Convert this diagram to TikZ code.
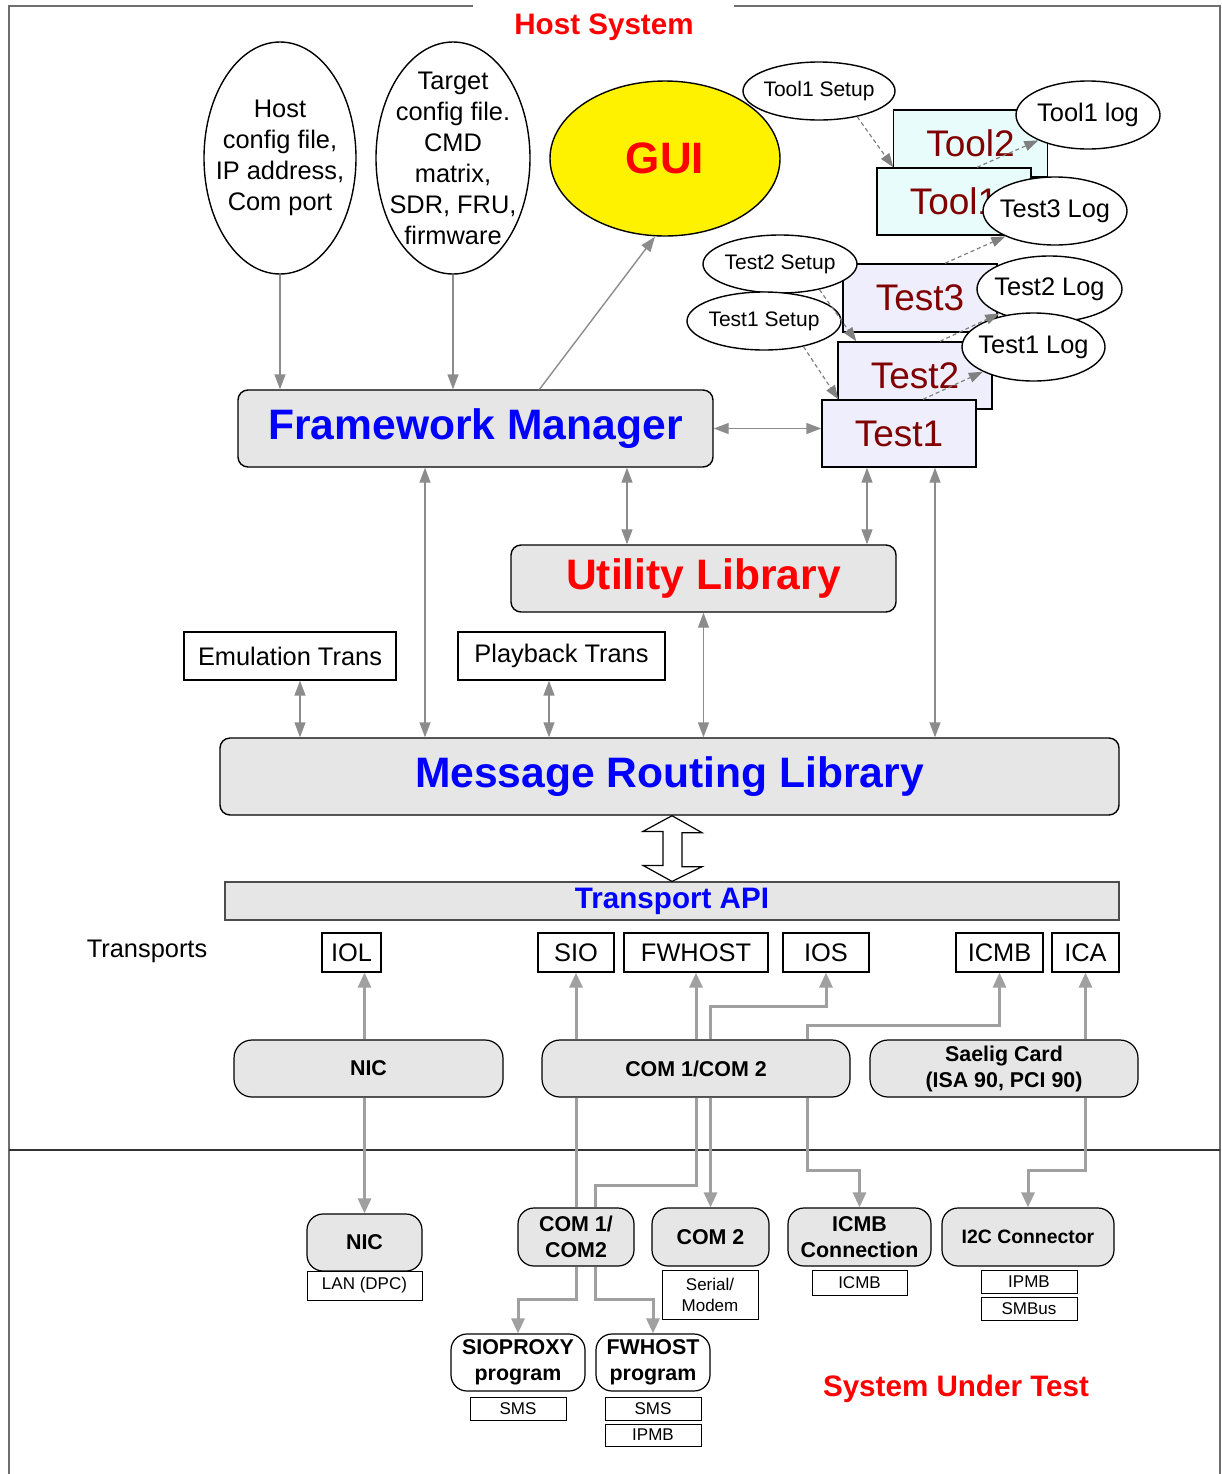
\documentclass[tikz,border=0pt]{standalone}
\usepackage{fontspec}
\setmainfont{Liberation Sans}
\usepackage{tikz}
\usetikzlibrary{shapes,arrows.meta}
\definecolor{boxgray}{HTML}{E6E6E6}
\definecolor{linegray}{HTML}{8C8C8C}
\definecolor{wiregray}{HTML}{A0A0A0}
\definecolor{toolcyan}{HTML}{E8FCFC}
\definecolor{testlav}{HTML}{EEEEFC}
\definecolor{darkred}{HTML}{800000}
\definecolor{framegray}{HTML}{6E6E6E}

\begin{document}
\begin{tikzpicture}[x=0.5pt, y=-0.5pt,
    every node/.style={font=\fontsize{12.7}{15.5}\selectfont},
    bubble/.style={ellipse, draw, fill=white, line width=0.7pt, inner sep=-10pt, align=center},
    bigbox/.style={draw, rounded corners=5pt, fill=boxgray, line width=0.7pt, inner sep=0pt, font=\fontsize{21.3}{25}\selectfont\bfseries},
    transbox/.style={draw, line width=0.6pt, minimum height=19.5pt, inner sep=0pt},
    tbox/.style={draw, line width=0.7pt, minimum width=77pt, minimum height=33.5pt, inner sep=0pt, text=darkred, font=\fontsize{18.5}{22}\selectfont},
    hwbox/.style={draw, rounded corners=9pt, fill=boxgray, line width=0.6pt, minimum height=28.5pt, inner sep=0pt, align=center, font=\fontsize{10.7}{13}\selectfont\bfseries},
    sutbox/.style={hwbox, rounded corners=8pt, minimum height=29pt},
    subbox/.style={draw, line width=0.5pt, minimum width=48pt, minimum height=11.5pt, inner sep=0pt, align=center, font=\fontsize{8.5}{10.5}\selectfont},
    conn/.style={draw=linegray, line width=0.7pt, >={Triangle[length=7.5pt,width=5.5pt]}},
    hw/.style={draw=wiregray, line width=1.5pt, >={Triangle[length=7.5pt,width=6.5pt]}},
    dashy/.style={draw=gray, dashed, dash pattern=on 2pt off 1.5pt, line width=0.6pt, -{Triangle[length=7pt,width=5pt]}},
    title/.style={text=red, font=\fontsize{14.8}{17}\selectfont\bfseries}]

    \useasboundingbox (0,0) rectangle (1222,1474);

    % frame and divider
    \draw[framegray, line width=0.8pt] (9,1474) -- (9,6) -- (473,6);
    \draw[framegray, line width=0.8pt] (734,6) -- (1220,6) -- (1220,1474);
    \draw[black!80, line width=0.6pt] (9,1150) -- (1220,1150);

    \node[title] (hosttitle) at (604,27) {Host System};
    \node[title] (suttitle) at (956,1389) {System Under Test};

    % config files and GUI
    \node[bubble, minimum width=76pt, minimum height=116pt] (hostcfg) at (280,158) {Host\\config file,\\IP address,\\Com port};
    \node[bubble, minimum width=77pt, minimum height=116pt] (tgtcfg) at (453,158) {Target\\config file.\\CMD\\matrix,\\SDR, FRU,\\firmware};
    \node[bubble, fill=yellow, minimum width=115pt, minimum height=77.5pt, text=red, font=\fontsize{22}{26}\selectfont\bfseries] (gui) at (665,158.5) {GUI};

    % tools and tests
    \node[tbox, fill=toolcyan] (tool2) at (970.5,143.5) {Tool2};
    \node[tbox, fill=toolcyan] (tool1) at (954,201.5) {Tool1};
    \node[bubble, minimum width=76pt, minimum height=29pt, font=\fontsize{10.5}{12}\selectfont] (tool1set) at (819,91) {Tool1 Setup};
    \node[bubble, minimum width=72pt, minimum height=34pt] (tool1log) at (1088,115) {Tool1 log};
    \node[bubble, minimum width=72pt, minimum height=34pt] (test3log) at (1055,211) {Test3 Log};
    \node[tbox, fill=testlav, minimum height=34pt] (test3) at (920,298) {Test3};
    \node[bubble, minimum width=77pt, minimum height=29pt, font=\fontsize{10.5}{12}\selectfont] (test2set) at (780,264) {Test2 Setup};
    \node[bubble, minimum width=72.5pt, minimum height=33pt] (test2log) at (1049.5,289) {Test2 Log};
    \node[tbox, fill=testlav] (test2) at (915,375.5) {Test2};
    \node[bubble, minimum width=77pt, minimum height=29pt, font=\fontsize{10.5}{12}\selectfont] (test1set) at (764,321) {Test1 Setup};
    \node[bubble, minimum width=71.5pt, minimum height=34pt] (test1log) at (1033.5,347) {Test1 Log};
    \node[tbox, fill=testlav] (test1) at (899,433.5) {Test1};

    % libraries
    \node[bigbox, text=blue, minimum width=237.5pt, minimum height=38.5pt] (fm) at (475.5,428.5) {Framework Manager};
    \node[bigbox, text=red, minimum width=192.5pt, minimum height=33.5pt] (util) at (703.5,578.5) {Utility Library};
    \node[draw, line width=0.6pt, inner sep=0pt, minimum width=106pt, minimum height=24pt] (emul) at (290,656) {Emulation Trans};
    \node[draw, line width=0.6pt, inner sep=0pt, minimum width=103.5pt, minimum height=24pt] (play) at (561.5,656) {Playback Trans};
    \node[bigbox, text=blue, minimum width=449.5pt, minimum height=38.5pt] (mrl) at (669.5,776.5) {Message Routing Library};
    \node[draw=black!70, line width=0.6pt, fill=boxgray, inner sep=0pt, minimum width=447pt, minimum height=19pt, text=blue, font=\fontsize{14.8}{17}\selectfont\bfseries] (api) at (672,901) {Transport API};

    % transports
    \node (translabel) at (147,951) {Transports};
    \node[transbox, minimum width=29.5pt] (iol) at (351.5,952.5) {IOL};
    \node[transbox, minimum width=38pt] (sio) at (576,952.5) {SIO};
    \node[transbox, minimum width=72pt] (fwhost) at (696,952.5) {FWHOST};
    \node[transbox, minimum width=43pt] (ios) at (826,952.5) {IOS};
    \node[transbox, minimum width=43.5pt] (icmb) at (999.5,952.5) {ICMB};
    \node[transbox, minimum width=33.5pt] (ica) at (1085.5,952.5) {ICA};

    % host hardware
    \node[hwbox, minimum width=134.5pt] (nichost) at (368.5,1068.5) {NIC};
    \node[hwbox, minimum width=154pt] (comhost) at (696,1068.5) {COM 1/COM 2};
    \node[hwbox, minimum width=134pt] (saelig) at (1004,1068.5) {Saelig Card\\(ISA 90, PCI 90)};

    % system under test
    \node[sutbox, minimum width=57.5pt, minimum height=28.5pt] (nicsut) at (364.5,1242.5) {NIC};
    \node[subbox, minimum width=57.5pt, minimum height=14.5pt] (lan) at (364.5,1285.5) {LAN (DPC)};
    \node[sutbox, minimum width=58pt] (sutcom) at (576,1237) {COM 1/\\COM2};
    \node[sutbox, minimum width=58.5pt] (com2) at (710.5,1237) {COM 2};
    \node[subbox, minimum height=24.5pt] (serial) at (710,1294.5) {Serial/\\Modem};
    \node[sutbox, minimum width=71.5pt] (icmbconn) at (859.5,1237) {ICMB\\Connection};
    \node[subbox, minimum width=47.5pt, minimum height=12.5pt] (icmbsub) at (859.5,1282.5) {ICMB};
    \node[sutbox, minimum width=86pt, font=\fontsize{9.7}{12}\selectfont\bfseries] (i2c) at (1028,1237) {I2C Connector};
    \node[subbox] (ipmbone) at (1029,1281.5) {IPMB};
    \node[subbox] (smbus) at (1029,1308.5) {SMBus};
    \node[sutbox, fill=white, minimum width=67pt, minimum height=28.5pt] (sioprox) at (518,1362.5) {SIOPROXY\\program};
    \node[subbox] (smsone) at (518,1408.5) {SMS};
    \node[sutbox, fill=white, minimum width=57pt, minimum height=28.5pt] (fwprog) at (653,1362.5) {FWHOST\\program};
    \node[subbox] (smstwo) at (653,1408.5) {SMS};
    \node[subbox, minimum height=11pt] (ipmbtwo) at (653,1435) {IPMB};

    % setup and log arrows
    \draw[dashy] (tool1set.-34) -- ([xshift=8.5pt]tool1.north west);
    \draw[dashy] ([xshift=11.5pt]tool1.north) -- (tool1log.207);
    \draw[dashy] ([xshift=12.5pt]test3.north) -- (test3log.207);
    \draw[dashy] (test2set.-33) -- ([xshift=9.5pt]test2.north west);
    \draw[dashy] ([xshift=12.5pt]test2.north) -- (test2log.206);
    \draw[dashy] (test1set.-33) -- ([xshift=8.5pt]test1.north west);
    \draw[dashy] ([xshift=12pt]test1.north) -- (test1log.206);

    % host side connectors
    \draw[conn,->] (hostcfg.south) -- (hostcfg |- fm.north);
    \draw[conn,->] (tgtcfg.south) -- (tgtcfg |- fm.north);
    \draw[conn,->] ([xshift=32pt]fm.north) -- ([xshift=-5pt]gui.south);
    \draw[conn,<->] (fm.east) -- (fm.east -| test1.west);
    \draw[conn,<->] ([xshift=75.75pt]fm.south) -- ([xshift=75.75pt]fm.south |- util.north);
    \draw[conn,<->] ([xshift=-16pt]test1.south) -- ([xshift=-16pt]test1.south |- util.north);
    \draw[conn,<->] ([xshift=18pt]test1.south) -- ([xshift=18pt]test1.south |- mrl.north);
    \draw[conn,<->] ([xshift=-25.25pt]fm.south) -- ([xshift=-25.25pt]fm.south |- mrl.north);
    \draw[conn,<->] (util.south) -- (util.south |- mrl.north);
    \draw[conn,<->] ([xshift=5pt]emul.south) -- ([xshift=5pt]emul.south |- mrl.north);
    \draw[conn,<->] ([xshift=-6.25pt]play.south) -- ([xshift=-6.25pt]play.south |- mrl.north);

    % hollow double arrow
    \coordinate (dbl) at (672,0);
    \draw[line width=0.6pt, fill=white] (mrl.south -| dbl) -- ++(30,17) -- ++(-20,0) -- ++(0,34) -- ++(20,0)
        -- (api.north -| dbl) -- ++(-29,-16) -- ++(20,0) -- ++(0,-34) -- ++(-20,0) -- cycle;

    % hardware wiring
    \draw[hw,->] (nicsut |- nichost.north) -- (nicsut |- iol.south);
    \draw[hw,->] (nicsut |- nichost.south) -- (nicsut.north);
    \draw[hw,->] (sio |- comhost.north) -- (sio.south);
    \draw[hw] (sio |- comhost.south) -- (sio |- sutcom.north);
    \draw[hw,->] (fwhost |- comhost.north) -- (fwhost.south);
    \draw[hw] (fwhost |- comhost.south) -- (fwhost |- 0,1185) -| ([xshift=9.5pt]sutcom.north);
    \draw[hw,->] (com2 |- comhost.north) -- (com2 |- 0,1006) -| (ios.south);
    \draw[hw,->] (com2 |- comhost.south) -- (com2.north);
    \draw[hw,->] ([xshift=55.5pt]comhost.north) -- ++(0,-14) -| (icmb.south);
    \draw[hw,->] ([xshift=55.5pt]comhost.south) -- ++(0,73) -| (icmbconn.north);
    \draw[hw,->] (ica |- saelig.north) -- (ica.south);
    \draw[hw,->] (ica |- saelig.south) -- (ica |- 0,1170) -| (i2c.north);
    \draw[hw,->] (sio |- sutcom.south) -- (sio |- 0,1299) -| (sioprox.north);
    \draw[hw,->] ([xshift=9.5pt]sutcom.south) -- ++(0,33) -| (fwprog.north);
\end{tikzpicture}
\end{document}
